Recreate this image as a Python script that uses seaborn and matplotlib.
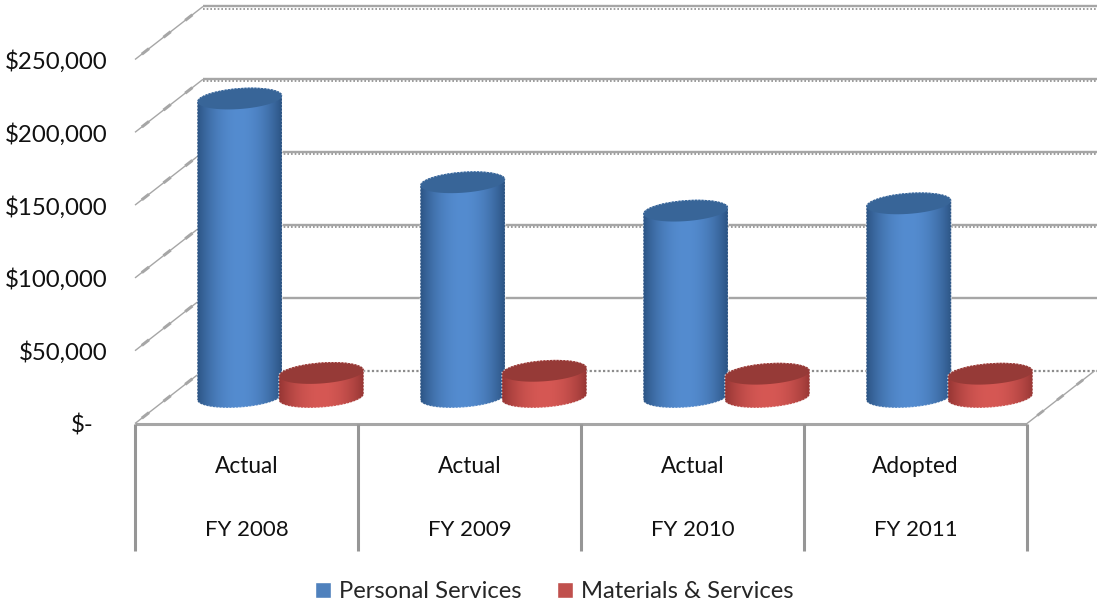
import numpy as np
import pandas as pd
import matplotlib
matplotlib.use("Agg")
import matplotlib.pyplot as plt
from matplotlib.patches import Polygon
import seaborn as sns

fiscal_years = ["FY 2008", "FY 2009", "FY 2010", "FY 2011"]
budget_status = ["Actual", "Actual", "Actual", "Adopted"]
personal_services = [205000, 147500, 128000, 133000]
materials_services = [16500, 18000, 16000, 16000]
series_names = ["Personal Services", "Materials & Services"]
tick_values = [0, 50000, 100000, 150000, 200000, 250000]
tick_labels = ["$-", "$50,000", "$100,000", "$150,000", "$200,000", "$250,000"]

W, H = 1097, 606
PX_PER_CAT = 223.0
PX_PER_USD = 364.0 / 250000
ORIGIN_X, ORIGIN_Y = 280.5, 397.0
DEPTH_X, DEPTH_Y = 34.0, 26.5
GREY = "#a6a6a6"

sns.set_theme(style="white")
plt.rcParams["font.family"] = ["Lato", "DejaVu Sans"]

fig = plt.figure(figsize=(W / 100, H / 100), dpi=100, facecolor="white")
ax = fig.add_axes([0, 0, 1, 1])

frame = pd.DataFrame({
    "year": fiscal_years * 2,
    "series": [series_names[0]] * 4 + [series_names[1]] * 4,
    "amount": personal_services + materials_services,
})
sns.barplot(data=frame, x="year", y="amount", hue="series", hue_order=series_names,
            palette=["#4F81BD", "#C0504D"], width=0.731, gap=0, saturation=1,
            errorbar=None, ax=ax, zorder=3)


def plane(x, v, depth):
    """Data position of (x, v) on the front (-1), middle (0) or back (+1) plane."""
    return x + depth * DEPTH_X / PX_PER_CAT, v + depth * DEPTH_Y / PX_PER_USD


def plane_line(x0, x1, v, d0, d1, **kw):
    a, b = plane(x0, v, d0), plane(x1, v, d1)
    ax.plot([a[0], b[0]], [a[1], b[1]], solid_capstyle="butt", **kw)


LEFT, RIGHT = -0.5, 3.5

# back wall gridlines and side wall rungs
for v in tick_values:
    if v == 0:
        plane_line(LEFT, RIGHT + 0.01, v, 1, 1, color="#8c8c8c", lw=1.6, ls=(0, (1, 1)), zorder=1)
    else:
        plane_line(LEFT, RIGHT + 0.01, v, 1, 1, color=GREY, lw=1.7, zorder=1)
        if v > 50000:
            plane_line(LEFT, RIGHT + 0.01, v - 1400, 1, 1, color="#8c8c8c", lw=1.2,
                       ls=(0, (1, 1.2)), zorder=1)
    plane_line(LEFT, LEFT, v, -1, 1, color=GREY, lw=1.0, zorder=1)
    plane_line(LEFT, LEFT, v, -0.8, 0.85, color=GREY, lw=2.2, ls=(0, (3, 6)), zorder=1)

# floor edges
plane_line(RIGHT, RIGHT, 0, -1, 1, color=GREY, lw=1.0, zorder=1)
plane_line(RIGHT, RIGHT, 0, -0.7, 0.9, color=GREY, lw=2.0, ls=(0, (3, 6)), zorder=1)
plane_line(LEFT, RIGHT, 0, -1, -1, color=GREY, lw=2.2, zorder=2)

# category table below the floor
base_x, base_y = plane(0, 0, -1)
bottom_v = base_y - 127 / PX_PER_USD
for edge in np.arange(5) - 0.5:
    ex = edge - DEPTH_X / PX_PER_CAT
    ax.plot([ex, ex], [base_y, bottom_v], color="#969696", lw=2.2, solid_capstyle="butt", zorder=2)
for i, (status, year) in enumerate(zip(budget_status, fiscal_years)):
    cx = i - DEPTH_X / PX_PER_CAT
    ax.text(cx, base_y - 43 / PX_PER_USD, status, ha="center", va="center", fontsize=16.3, color="#111111")
    ax.text(cx, base_y - 106 / PX_PER_USD, year, ha="center", va="center", fontsize=16, color="#111111")

# dollar scale, aligned on the front plane
label_right = (107 - ORIGIN_X) / PX_PER_CAT
for v, label in zip(tick_values, tick_labels):
    y = plane(0, v, -1)[1] - 2 / PX_PER_USD
    if v == 0:
        ax.text((82 - ORIGIN_X) / PX_PER_CAT, y, label, ha="center", va="center",
                fontsize=17.3, color="#111111")
    else:
        ax.text(label_right, y, label, ha="right", va="center", fontsize=17.3, color="#111111")


def ellipse_arc(cx, cy, rx, t0, t1, n=60):
    t = np.linspace(t0, t1, n)
    ry, tilt = 10.5 / PX_PER_USD, 3.0 / PX_PER_USD
    return np.column_stack([cx + rx * np.cos(t), cy + ry * np.sin(t) + tilt * np.cos(t)])


def cylinder(bar, centre_rgb, edge_rgb, cap_rgb, z):
    """Give a flat seaborn bar a shaded body and an elliptical cap."""
    cx = bar.get_x() + bar.get_width() / 2
    top = bar.get_height()
    rx = 42.5 / PX_PER_CAT
    outline = np.vstack([ellipse_arc(cx, 0, rx, np.pi, 2 * np.pi),
                         ellipse_arc(cx, top, rx, 0, np.pi)])
    u = np.abs(np.linspace(-1, 1, 128))[None, :, None] ** 2
    shade = np.array(centre_rgb)[None, None, :] * (1 - u) + np.array(edge_rgb)[None, None, :] * u
    span = 14 / PX_PER_USD
    im = ax.imshow(shade / 255, extent=[cx - rx, cx + rx, -span, top + span],
                   aspect="auto", interpolation="bilinear", zorder=z)
    clip = Polygon(outline, closed=True, transform=ax.transData)
    im.set_clip_path(clip)
    cap = ellipse_arc(cx, top, rx, 0, 2 * np.pi)
    ax.add_patch(Polygon(cap, closed=True, facecolor=np.array(cap_rgb) / 255, edgecolor="none", zorder=z + 0.1))
    # serrated rim along the silhouette
    rim = np.vstack([outline, outline[:1]])
    ax.plot(rim[:, 0], rim[:, 1], color="white", lw=1.0, ls=(0, (1, 1.4)), alpha=0.65, zorder=z + 0.3)


styles = {
    series_names[0]: ((84, 140, 208), (44, 84, 132), (56, 101, 152)),
    series_names[1]: ((214, 88, 84), (150, 54, 52), (150, 58, 55)),
}
for container, name in zip(ax.containers, series_names):
    for i, bar in enumerate(container):
        z = 4 + i * 2 + (1 if name == series_names[1] else 0)
        cylinder(bar, *styles[name], z)

ax.set_xlim(-ORIGIN_X / PX_PER_CAT, (W - ORIGIN_X) / PX_PER_CAT)
ax.set_ylim((ORIGIN_Y - H) / PX_PER_USD, ORIGIN_Y / PX_PER_USD)
ax.set_axis_off()

sns.move_legend(ax, "center", bbox_to_anchor=(554.5 / W, 1 - 592 / H), ncol=2, frameon=False,
                title=None, fontsize=17.2, handlelength=0.65, handleheight=0.67,
                handletextpad=0.35, columnspacing=1.5)

fig.savefig("out.png", dpi=100, facecolor="white")
